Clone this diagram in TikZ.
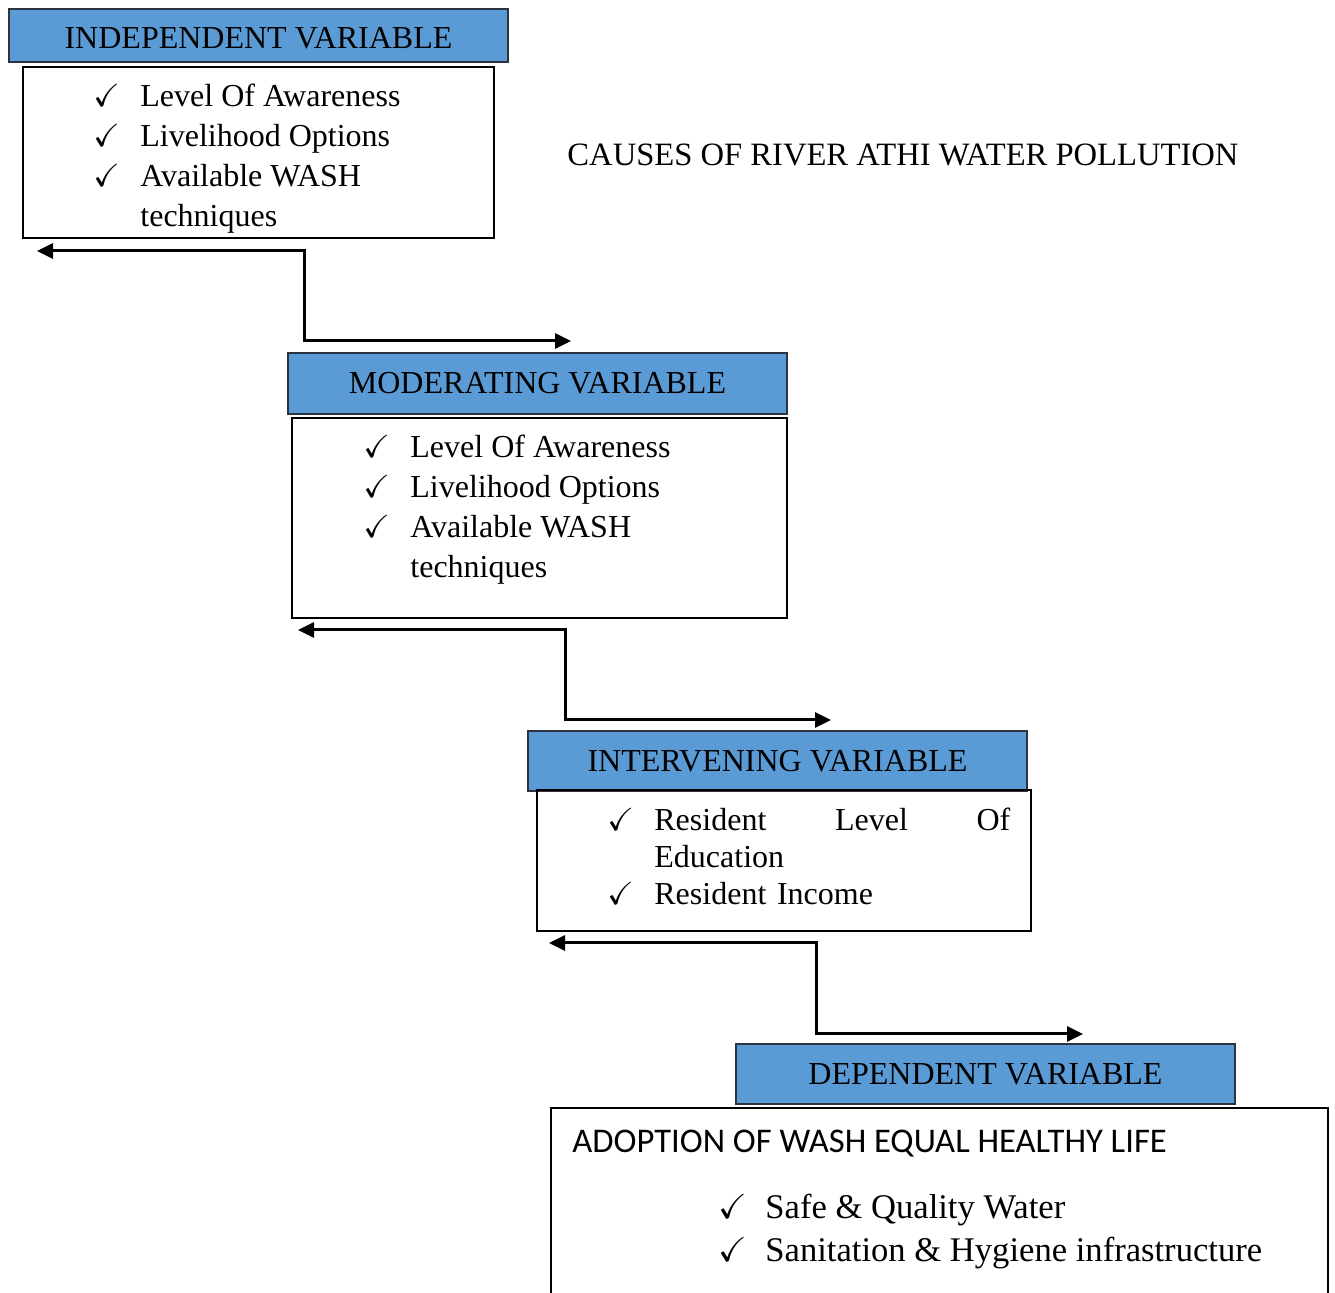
\documentclass[tikz,border=0pt]{standalone}
\usepackage{amssymb}
\usepackage{fontspec}
\setmainfont{Liberation Serif}
\newfontfamily\calibrifont{Carlito}
\usetikzlibrary{positioning, arrows.meta, calc}
\definecolor{headblue}{HTML}{5B9BD5}
\definecolor{headline}{HTML}{2B3440}
\newcommand{\chk}{\makebox[23.5pt][l]{$\checkmark$}}
\newcommand{\gap}{\hspace*{23.5pt}}
\tikzset{
>={Triangle[length=8pt,width=7.5pt]}, % filled heads on the loops
header/.style={draw=headline, line width=1pt, fill=headblue, minimum width=249.5pt, inner sep=0pt, font=\fontsize{16}{20}\selectfont},
listbox/.style={draw, line width=1pt, inner sep=0pt},
listtext/.style={anchor=north west, inner sep=0pt, align=left, font=\fontsize{16}{20}\selectfont},
link/.style={<->, line width=1.5pt, line join=miter},
}
\begin{document}
\begin{tikzpicture}[x=0.5pt, y=-0.5pt]
    \useasboundingbox (0,0) rectangle (1335,1293);
    \clip (0,0) rectangle (1335,1293);
    % the four blocks
    \node[header, minimum height=26.5pt, text height=13.6pt] (indep) at (258.5,35.5) {INDEPENDENT VARIABLE};
    \node[listbox, minimum width=235.5pt, minimum height=85.5pt] (indepbox) at (258.5,152.5) {};
    \node[listtext] (indeptext) at (93,84) {\chk Level Of Awareness\\ \chk Livelihood Options\\ \chk Available WASH\\ \gap techniques};

    \node[anchor=base, font=\fontsize{16.3}{20}\selectfont] (title) at (903,166) {CAUSES OF RIVER ATHI WATER POLLUTION};

    \node[header, minimum height=30.5pt] (moder) at (537.5,383.5) {MODERATING VARIABLE};
    \node[listbox, minimum width=247.5pt, minimum height=100pt] (moderbox) at (539.5,518) {};
    \node[listtext] (modertext) at (363,435) {\chk Level Of Awareness\\ \chk Livelihood Options\\ \chk Available WASH\\ \gap techniques};

    \node[header, minimum height=30pt] (interv) at (777.5,761) {INTERVENING VARIABLE};
    \node[listbox, minimum width=247pt, minimum height=70.5pt] (intervbox) at (784,860.5) {};
    \node[listtext, text width=201.5pt, font=\fontsize{16}{18.5}\selectfont] (intervtext) at (607,808) {\chk Resident\hfill Level\hfill Of\\ \gap Education\\ \chk Resident Income};

    \node[header, minimum height=30pt] (dep) at (985.5,1074) {DEPENDENT VARIABLE};
    \node[listbox, minimum width=388.5pt, minimum height=110pt] (depbox) at (939.5,1218) {};
    \node[anchor=base west, inner sep=0pt, font=\calibrifont\fontsize{17.3}{21}\selectfont] (deptitle) at (572,1153) {ADOPTION OF WASH EQUAL HEALTHY LIFE};
    \node[listtext, font=\fontsize{17.3}{21.5}\selectfont] (deptext) at (718,1194) {\chk Safe \& Quality Water\\ \chk Sanitation \& Hygiene infrastructure};

    % loops between the blocks
    \coordinate (a1l) at (37,251);
    \coordinate (a1r) at (571,341);
    \coordinate (a2l) at (298,630);
    \coordinate (a2r) at (831,720);
    \coordinate (a3l) at (549,943);
    \coordinate (a3r) at (1083,1034);
    \draw[link] (a1l) -- (304,251) -- (304,341) -- (a1r);
    \draw[link] (a2l) -- (565,630) -- (565,720) -- (a2r);
    \draw[link] (a3l) -- (816,943) -- (816,1034) -- (a3r);
\end{tikzpicture}
\end{document}
